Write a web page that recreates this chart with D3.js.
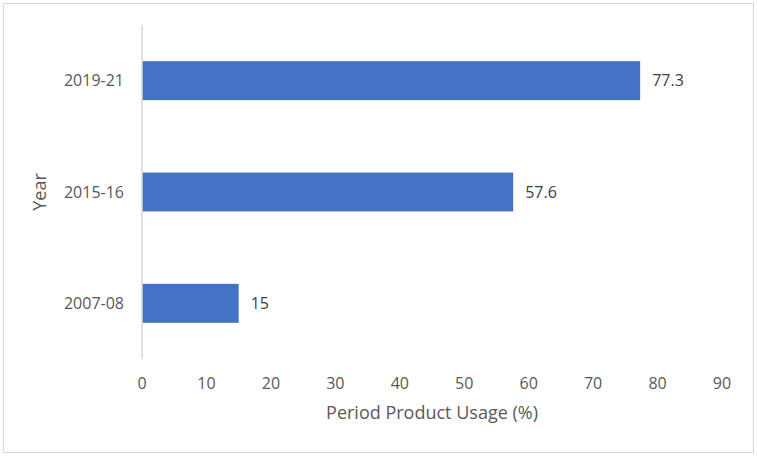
<!DOCTYPE html>
<html>
<head>
<meta charset="utf-8">
<script src="https://cdn.jsdelivr.net/npm/d3@7"></script>
<style>
    body { margin: 0; background: #fff; }
    svg text { font-family: "Open Sans", sans-serif; }
</style>
</head>
<body>
<div id="chart"></div>
<script>
// chart data
const years = ["2019-21", "2015-16", "2007-08"];
const usage = [77.3, 57.6, 15];
const xTicks = [0, 10, 20, 30, 40, 50, 60, 70, 80, 90];

const W = 757, H = 456;
const margin = {top: 25, right: 35, bottom: 97, left: 142};

const svg = d3.select("#chart").append("svg")
    .attr("width", W)
    .attr("height", H);

// chart border
svg.append("rect")
    .attr("x", 3.5).attr("y", 3.5)
    .attr("width", 750).attr("height", 449)
    .attr("fill", "#fff")
    .attr("stroke", "#d9d9d9");

const x = d3.scaleLinear()
    .domain([0, 90])
    .range([margin.left, W - margin.right]);

const y = d3.scaleBand()
    .domain(years)
    .range([margin.top, H - margin.bottom])
    .paddingInner(0.65)
    .paddingOuter(0.325);

const data = years.map((d, i) => ({year: d, value: usage[i]}));

// bars
svg.append("g")
    .selectAll("rect")
    .data(data)
    .enter().append("rect")
    .attr("x", x(0))
    .attr("y", d => y(d.year))
    .attr("width", d => x(d.value) - x(0))
    .attr("height", y.bandwidth())
    .attr("fill", "#4472c4");

// value labels
svg.append("g")
    .selectAll("text")
    .data(data)
    .enter().append("text")
    .attr("x", d => x(d.value) + 12)
    .attr("y", d => y(d.year) + y.bandwidth() / 2)
    .attr("dy", "0.35em")
    .attr("font-size", 16)
    .attr("fill", "#404040")
    .text(d => d.value);

// y axis line
svg.append("line")
    .attr("x1", x(0)).attr("x2", x(0))
    .attr("y1", margin.top).attr("y2", H - margin.bottom)
    .attr("stroke", "#d9d9d9")
    .attr("stroke-width", 1.5);

// y labels
svg.append("g")
    .selectAll("text")
    .data(years)
    .enter().append("text")
    .attr("x", x(0) - 18)
    .attr("y", d => y(d) + y.bandwidth() / 2)
    .attr("dy", "0.35em")
    .attr("text-anchor", "end")
    .attr("font-size", 16)
    .attr("fill", "#595959")
    .text(d => d);

// x tick labels
svg.append("g")
    .selectAll("text")
    .data(xTicks)
    .enter().append("text")
    .attr("x", d => x(d))
    .attr("y", 383)
    .attr("dy", "0.35em")
    .attr("text-anchor", "middle")
    .attr("font-size", 16)
    .attr("fill", "#595959")
    .text(d => d);

// axis titles
svg.append("text")
    .attr("x", (x(0) + x(90)) / 2)
    .attr("y", 413)
    .attr("dy", "0.35em")
    .attr("text-anchor", "middle")
    .attr("font-size", 18)
    .attr("fill", "#595959")
    .text("Period Product Usage (%)");

svg.append("text")
    .attr("transform", `translate(40,${(margin.top + H - margin.bottom) / 2}) rotate(-90)`)
    .attr("dy", "0.35em")
    .attr("text-anchor", "middle")
    .attr("font-size", 18)
    .attr("fill", "#595959")
    .text("Year");
</script>
</body>
</html>
